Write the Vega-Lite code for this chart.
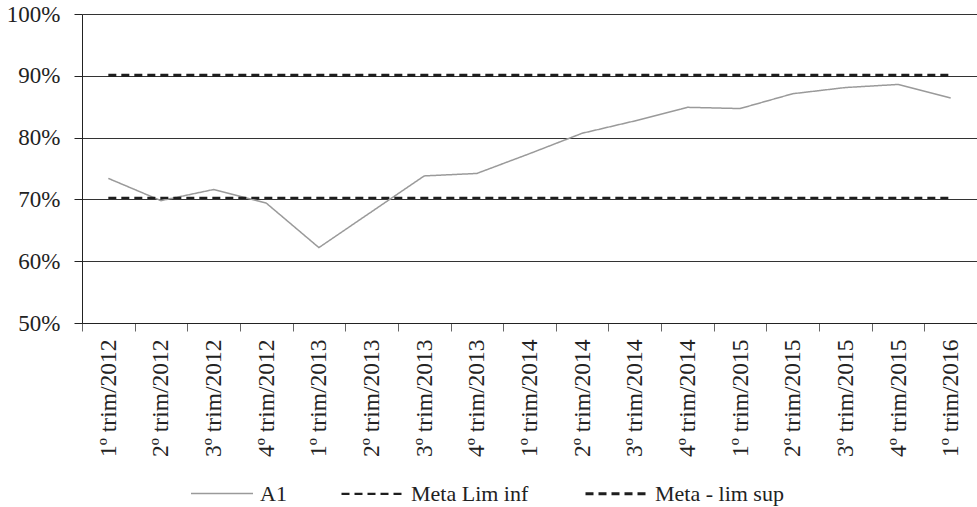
{
  "$schema": "https://vega.github.io/schema/vega-lite/v6.json",
  "width": 895,
  "height": 309,
  "autosize": {"type": "none"},
  "padding": {"left": 82, "top": 14, "right": 0, "bottom": 184},
  "background": "white",
  "config": {
    "view": {"stroke": null},
    "font": "Liberation Serif"
  },
  "data": {
    "values": [
      {"ordem": 1, "trimestre": "1º trim/2012", "serie": "A1", "valor": 0.734},
      {"ordem": 2, "trimestre": "2º trim/2012", "serie": "A1", "valor": 0.698},
      {"ordem": 3, "trimestre": "3º trim/2012", "serie": "A1", "valor": 0.716},
      {"ordem": 4, "trimestre": "4º trim/2012", "serie": "A1", "valor": 0.694},
      {"ordem": 5, "trimestre": "1º trim/2013", "serie": "A1", "valor": 0.622},
      {"ordem": 6, "trimestre": "2º trim/2013", "serie": "A1", "valor": 0.680},
      {"ordem": 7, "trimestre": "3º trim/2013", "serie": "A1", "valor": 0.738},
      {"ordem": 8, "trimestre": "4º trim/2013", "serie": "A1", "valor": 0.742},
      {"ordem": 9, "trimestre": "1º trim/2014", "serie": "A1", "valor": 0.774},
      {"ordem": 10, "trimestre": "2º trim/2014", "serie": "A1", "valor": 0.807},
      {"ordem": 11, "trimestre": "3º trim/2014", "serie": "A1", "valor": 0.827},
      {"ordem": 12, "trimestre": "4º trim/2014", "serie": "A1", "valor": 0.849},
      {"ordem": 13, "trimestre": "1º trim/2015", "serie": "A1", "valor": 0.847},
      {"ordem": 14, "trimestre": "2º trim/2015", "serie": "A1", "valor": 0.871},
      {"ordem": 15, "trimestre": "3º trim/2015", "serie": "A1", "valor": 0.881},
      {"ordem": 16, "trimestre": "4º trim/2015", "serie": "A1", "valor": 0.886},
      {"ordem": 17, "trimestre": "1º trim/2016", "serie": "A1", "valor": 0.864},
      {"ordem": 1, "trimestre": "1º trim/2012", "serie": "Meta Lim inf", "valor": 0.7025},
      {"ordem": 2, "trimestre": "2º trim/2012", "serie": "Meta Lim inf", "valor": 0.7025},
      {"ordem": 3, "trimestre": "3º trim/2012", "serie": "Meta Lim inf", "valor": 0.7025},
      {"ordem": 4, "trimestre": "4º trim/2012", "serie": "Meta Lim inf", "valor": 0.7025},
      {"ordem": 5, "trimestre": "1º trim/2013", "serie": "Meta Lim inf", "valor": 0.7025},
      {"ordem": 6, "trimestre": "2º trim/2013", "serie": "Meta Lim inf", "valor": 0.7025},
      {"ordem": 7, "trimestre": "3º trim/2013", "serie": "Meta Lim inf", "valor": 0.7025},
      {"ordem": 8, "trimestre": "4º trim/2013", "serie": "Meta Lim inf", "valor": 0.7025},
      {"ordem": 9, "trimestre": "1º trim/2014", "serie": "Meta Lim inf", "valor": 0.7025},
      {"ordem": 10, "trimestre": "2º trim/2014", "serie": "Meta Lim inf", "valor": 0.7025},
      {"ordem": 11, "trimestre": "3º trim/2014", "serie": "Meta Lim inf", "valor": 0.7025},
      {"ordem": 12, "trimestre": "4º trim/2014", "serie": "Meta Lim inf", "valor": 0.7025},
      {"ordem": 13, "trimestre": "1º trim/2015", "serie": "Meta Lim inf", "valor": 0.7025},
      {"ordem": 14, "trimestre": "2º trim/2015", "serie": "Meta Lim inf", "valor": 0.7025},
      {"ordem": 15, "trimestre": "3º trim/2015", "serie": "Meta Lim inf", "valor": 0.7025},
      {"ordem": 16, "trimestre": "4º trim/2015", "serie": "Meta Lim inf", "valor": 0.7025},
      {"ordem": 17, "trimestre": "1º trim/2016", "serie": "Meta Lim inf", "valor": 0.7025},
      {"ordem": 1, "trimestre": "1º trim/2012", "serie": "Meta - lim sup", "valor": 0.901},
      {"ordem": 2, "trimestre": "2º trim/2012", "serie": "Meta - lim sup", "valor": 0.901},
      {"ordem": 3, "trimestre": "3º trim/2012", "serie": "Meta - lim sup", "valor": 0.901},
      {"ordem": 4, "trimestre": "4º trim/2012", "serie": "Meta - lim sup", "valor": 0.901},
      {"ordem": 5, "trimestre": "1º trim/2013", "serie": "Meta - lim sup", "valor": 0.901},
      {"ordem": 6, "trimestre": "2º trim/2013", "serie": "Meta - lim sup", "valor": 0.901},
      {"ordem": 7, "trimestre": "3º trim/2013", "serie": "Meta - lim sup", "valor": 0.901},
      {"ordem": 8, "trimestre": "4º trim/2013", "serie": "Meta - lim sup", "valor": 0.901},
      {"ordem": 9, "trimestre": "1º trim/2014", "serie": "Meta - lim sup", "valor": 0.901},
      {"ordem": 10, "trimestre": "2º trim/2014", "serie": "Meta - lim sup", "valor": 0.901},
      {"ordem": 11, "trimestre": "3º trim/2014", "serie": "Meta - lim sup", "valor": 0.901},
      {"ordem": 12, "trimestre": "4º trim/2014", "serie": "Meta - lim sup", "valor": 0.901},
      {"ordem": 13, "trimestre": "1º trim/2015", "serie": "Meta - lim sup", "valor": 0.901},
      {"ordem": 14, "trimestre": "2º trim/2015", "serie": "Meta - lim sup", "valor": 0.901},
      {"ordem": 15, "trimestre": "3º trim/2015", "serie": "Meta - lim sup", "valor": 0.901},
      {"ordem": 16, "trimestre": "4º trim/2015", "serie": "Meta - lim sup", "valor": 0.901},
      {"ordem": 17, "trimestre": "1º trim/2016", "serie": "Meta - lim sup", "valor": 0.901}
    ]
  },
  "mark": {"type": "line", "strokeCap": "butt"},
  "encoding": {
    "x": {
      "field": "trimestre",
      "type": "ordinal",
      "sort": null,
      "scale": {"paddingInner": 0, "paddingOuter": 0},
      "axis": {
        "title": null,
        "labelAngle": -90,
        "labelFont": "Liberation Serif",
        "labelFontSize": 23.5,
        "labelColor": "#222222",
        "labelPadding": 8,
        "tickBand": "extent",
        "tickSize": 8,
        "tickColor": "#666666",
        "domainColor": "#222222",
        "grid": false
      }
    },
    "y": {
      "field": "valor",
      "type": "quantitative",
      "scale": {"domain": [0.5, 1.0], "nice": false, "zero": false},
      "axis": {
        "title": null,
        "format": ".0%",
        "values": [0.5, 0.6, 0.7, 0.8, 0.9, 1.0],
        "labelFont": "Liberation Serif",
        "labelFontSize": 23,
        "labelColor": "#222222",
        "labelPadding": 14,
        "tickSize": 8,
        "tickColor": "#222222",
        "domainColor": "#222222",
        "grid": true,
        "gridColor": "#333333",
        "gridWidth": 1,
        "gridOpacity": 1
      }
    },
    "order": {"field": "ordem", "type": "quantitative"},
    "color": {
      "field": "serie",
      "type": "nominal",
      "sort": null,
      "scale": {
        "domain": ["A1", "Meta Lim inf", "Meta - lim sup"],
        "range": ["#9a9a9a", "#1e1e1e", "#1e1e1e"]
      },
      "legend": {
        "title": null,
        "orient": "none",
        "legendX": 108,
        "legendY": 447,
        "direction": "horizontal",
        "symbolType": "stroke",
        "symbolSize": 3844,
        "symbolStrokeWidth": 1,
        "labelFont": "Liberation Serif",
        "labelFontSize": 22,
        "labelColor": "#222222",
        "labelOffset": 6,
        "columnPadding": 50,
        "encode": {
          "symbols": {
            "update": {
              "strokeWidth": {"value": 1},
              "strokeDash": {"signal": "datum.value === 'A1' ? [1, 0] : [3, 2]"},
              "stroke": {"signal": "datum.value === 'A1' ? '#aaaaaa' : '#333333'"}
            }
          }
        }
      }
    },
    "strokeDash": {
      "field": "serie",
      "type": "nominal",
      "sort": null,
      "scale": {
        "domain": ["A1", "Meta Lim inf", "Meta - lim sup"],
        "range": [[1, 0], [8, 5], [8, 5]]
      },
      "legend": null
    },
    "strokeWidth": {
      "field": "serie",
      "type": "nominal",
      "sort": null,
      "scale": {
        "domain": ["A1", "Meta Lim inf", "Meta - lim sup"],
        "range": [1.5, 3, 3]
      },
      "legend": null
    }
  }
}
